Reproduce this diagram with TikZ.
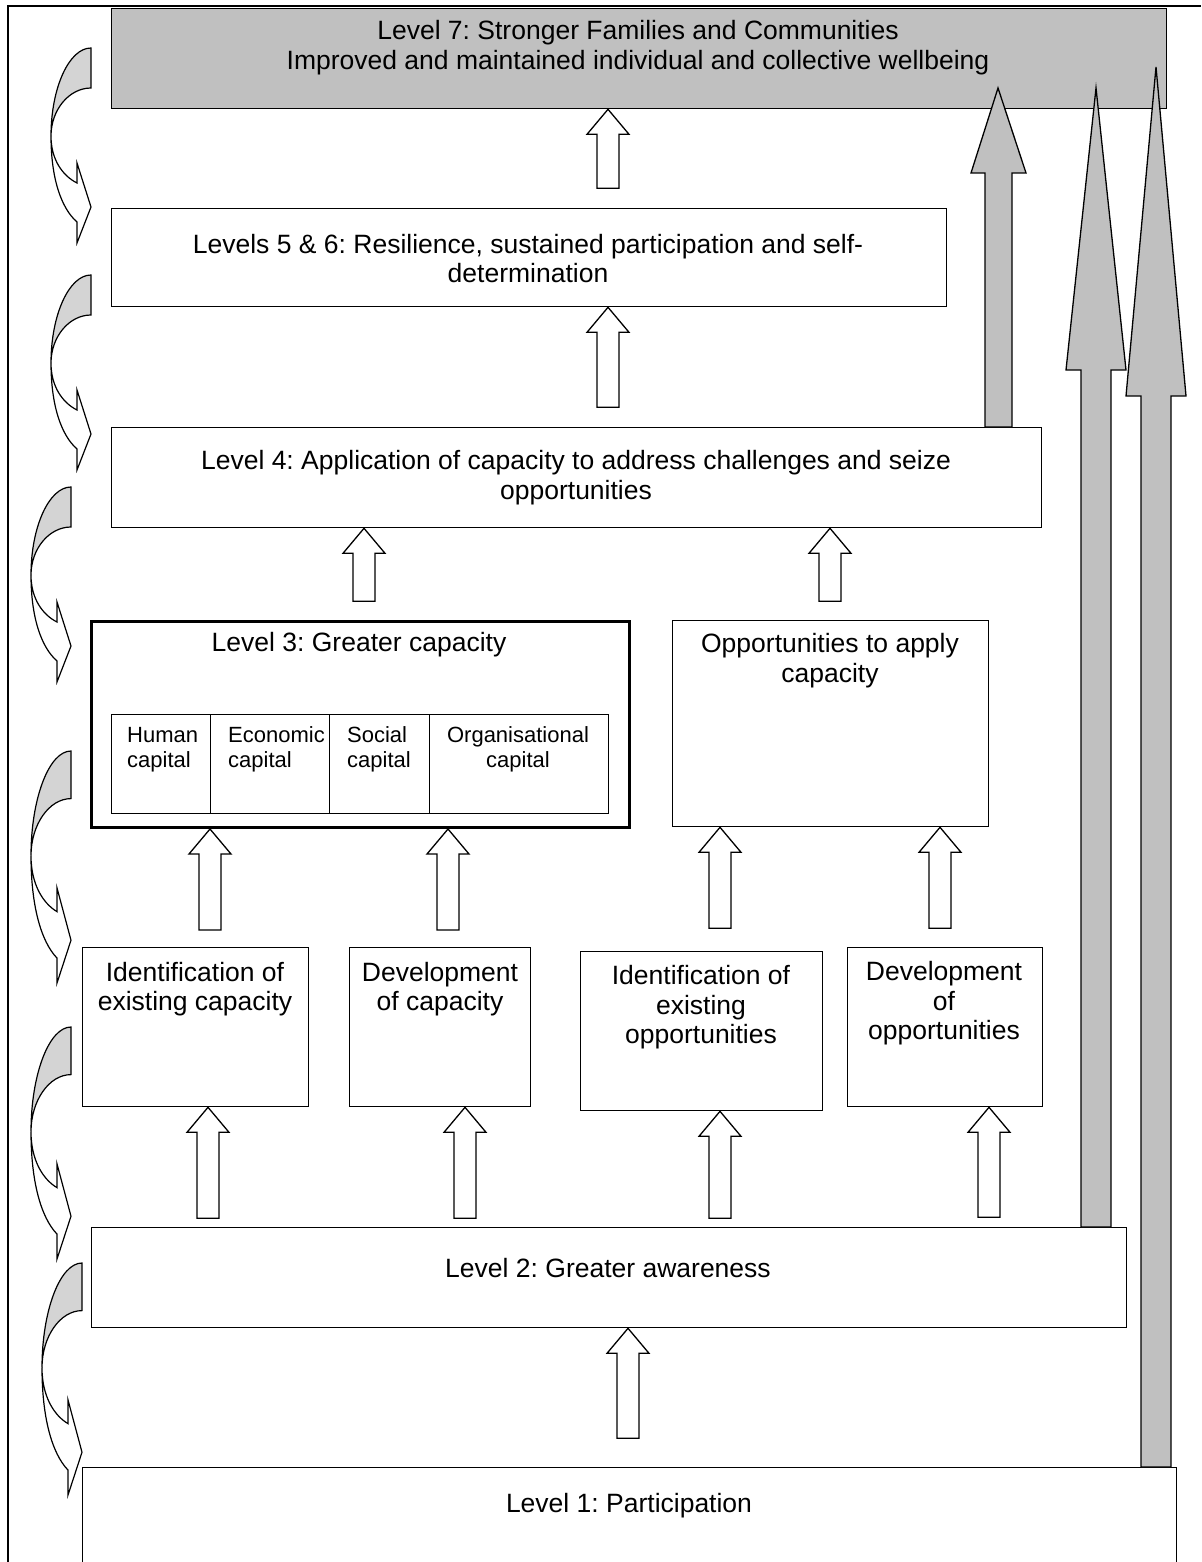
\documentclass[tikz,border=0pt]{standalone}
\usepackage{fontspec}
\setmainfont{Liberation Sans}
\frenchspacing
\definecolor{lvgray}{RGB}{192,192,192}
\definecolor{cgray}{RGB}{212,212,212}
\begin{document}
\frenchspacing
\begin{tikzpicture}[x=1pt,y=-1pt,line join=miter,
  box/.style={draw,line width=1.3pt,fill=white,inner sep=0pt,anchor=north west},
  txt/.style={align=center,font=\fontsize{26.5}{29.5}\selectfont,inner sep=0pt},
  stxt/.style={align=left,font=\fontsize{22}{25}\selectfont,inner sep=0pt},
  blk/.style={draw,line width=1.3pt,fill=white},
  garrow/.style={draw,line width=1.3pt,fill=lvgray},
  pics/uparr/.style={code={\draw[blk] (0,0) -- (21,25) -- (11,25) -- (11,#1) -- (-11,#1) -- (-11,25) -- (-21,25) -- cycle;}},
  pics/curvarr/.style={code={
    \draw[line width=1.2pt,fill=cgray] (0,0) .. controls (-22,0) and (-40,40) .. (-40,88) .. controls (-40,62) and (-22,40) .. (0,40) -- cycle;
    \draw[line width=1.2pt,fill=white] (-40,88) .. controls (-40,112) and (-28,128) .. (-14,135) -- (-14,115) -- (0,159) -- (-14,195) -- (-14,174) .. controls (-30,160) and (-40,130) .. (-40,88) -- cycle;}}
]
\useasboundingbox (0,0) rectangle (1201,1562);
% frame
\draw[line width=2.5pt] (8,1562) -- (8,6) -- (1201,6);

% boxes
\node[box,fill=lvgray,minimum width=1055,minimum height=100] (L7) at (111,8) {};
\node[box,minimum width=835,minimum height=98] (L56) at (111,208) {};
\node[box,minimum width=930,minimum height=100] (L4) at (111,427) {};
\node[box,line width=3pt,minimum width=538,minimum height=206] (L3) at (90,620) {};
\node[box,minimum width=99,minimum height=99] (C1) at (111,714) {};
\node[box,minimum width=119,minimum height=99] (C2) at (210,714) {};
\node[box,minimum width=100,minimum height=99] (C3) at (329,714) {};
\node[box,minimum width=179,minimum height=99] (C4) at (429,714) {};
\node[box,minimum width=316,minimum height=206] (OP) at (672,620) {};
\node[box,minimum width=226,minimum height=159] (B1) at (82,947) {};
\node[box,minimum width=181,minimum height=159] (B2) at (349,947) {};
\node[box,minimum width=242,minimum height=159] (B3) at (580,951) {};
\node[box,minimum width=195,minimum height=159] (B4) at (847,947) {};
\node[box,minimum width=1035,minimum height=100] (L2) at (91,1227) {};
\node[box,minimum width=1094,minimum height=130] (L1) at (82,1467) {};

% texts
\node[txt] (t7) at (638,47.5) {Level 7: Stronger Families and Communities\\Improved and maintained individual and collective wellbeing};
\node[txt] (t56) at (528,258.5) {Levels 5 \& 6: Resilience, sustained participation and self-\\determination};
\node[txt] (t4) at (576,477.5) {Level 4: Application of capacity to address challenges and seize\\opportunities};
\node[txt] (t3) at (359,645) {Level 3: Greater capacity};
\node[stxt,anchor=west] (tc1) at (127,749.5) {Human\\capital};
\node[stxt,anchor=west] (tc2) at (228,749.5) {Economic\\capital};
\node[stxt,anchor=west] (tc3) at (347,749.5) {Social\\capital};
\node[stxt,align=center] (tc4) at (518,749.5) {Organisational\\capital};
\node[txt] (top) at (830,660.5) {Opportunities to apply\\capacity};
\node[txt] (tb1) at (195,989) {Identification of\\existing capacity};
\node[txt] (tb2) at (440,989) {Development\\of capacity};
\node[txt] (tb3) at (701,1007.5) {Identification of\\existing\\opportunities};
\node[txt] (tb4) at (944,1003.5) {Development\\of\\opportunities};
\node[txt] (t2) at (608,1268) {Level 2: Greater awareness};
\node[txt] (t1) at (629,1506) {Level 1: Participation};

% white block arrows
\pic at (608,0 |- L7.south) {uparr=79};
\pic at (608,0 |- L56.south) {uparr=100};
\pic at (364,0 |- L4.south) {uparr=73};
\pic at (830,0 |- L4.south) {uparr=73};
\pic at (210,0 |- L3.south) {uparr=101};
\pic at (448,0 |- L3.south) {uparr=101};
\pic at (720,0 |- OP.south) {uparr=101};
\pic at (940,0 |- OP.south) {uparr=101};
\pic at (208,0 |- B1.south) {uparr=111};
\pic at (465,0 |- B2.south) {uparr=111};
\pic at (720,0 |- B3.south) {uparr=107};
\pic at (989,0 |- B4.south) {uparr=110};
\pic at (628,0 |- L2.south) {uparr=110};

% gray arrows
\draw[garrow] (985,0 |- L4.north) -- (985,173) -- (971,173) -- (998,88) -- (1026,173) -- (1012,173) -- (1012,0 |- L4.north) -- cycle;
\draw[garrow] (1081,0 |- L2.north) -- (1081,370) -- (1066,370) -- (1096,88) -- (1126,370) -- (1111,370) -- (1111,0 |- L2.north) -- cycle;
\draw[garrow] (1141,0 |- L1.north) -- (1141,396) -- (1126,396) -- (1156,67) -- (1186,396) -- (1171,396) -- (1171,0 |- L1.north) -- cycle;

% curved arrows on the left
\pic at (91,48) {curvarr};
\pic at (91,275) {curvarr};
\pic at (71,487) {curvarr};
\pic[yscale=1.19] at (71,751) {curvarr};
\pic[yscale=1.19] at (71,1027) {curvarr};
\pic[yscale=1.19] at (82,1263) {curvarr};
\end{tikzpicture}
\end{document}
